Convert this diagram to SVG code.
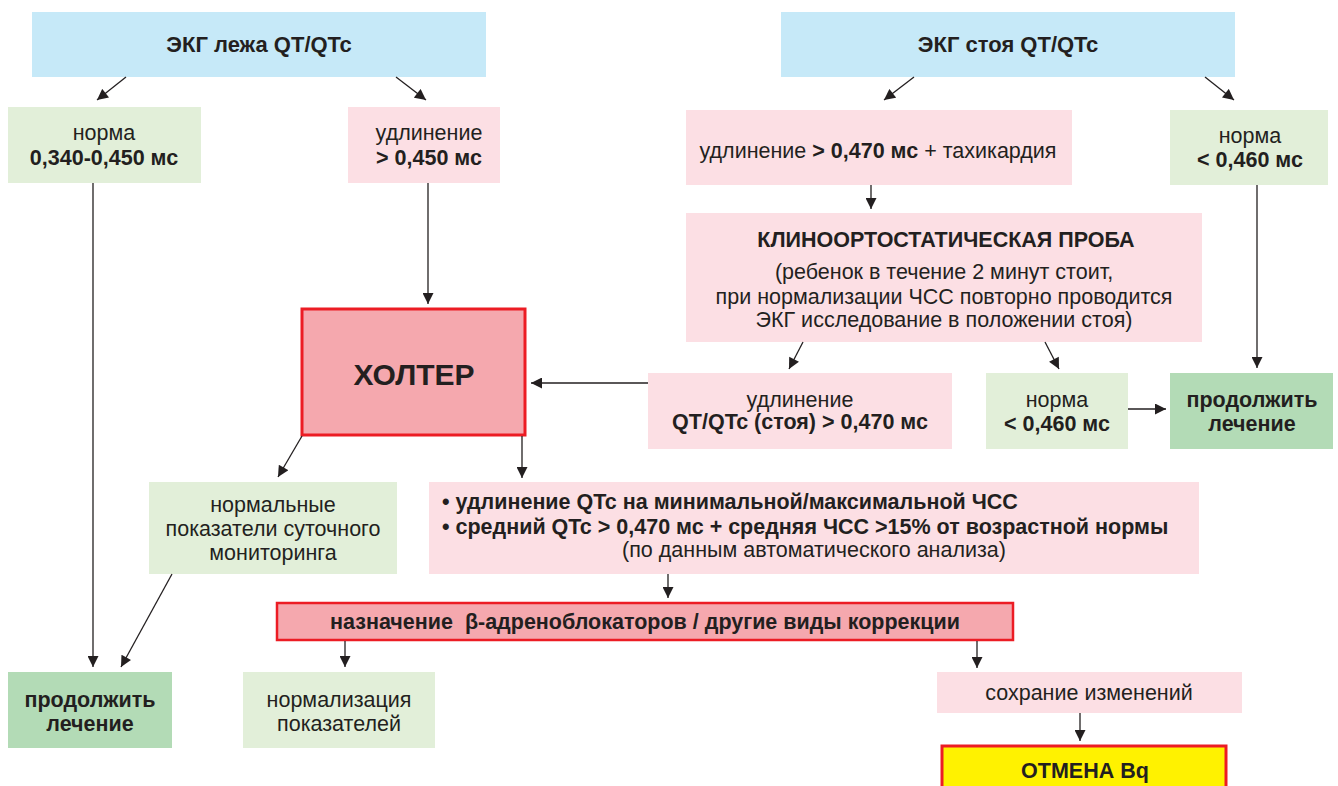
<svg xmlns="http://www.w3.org/2000/svg" width="1338" height="786" viewBox="0 0 1338 786">
<defs>
<marker id="ah" viewBox="0 0 10 10" refX="10" refY="5" markerWidth="12" markerHeight="11" markerUnits="userSpaceOnUse" orient="auto">
<path d="M0,0 L10,5 L0,10 z" fill="#231f20"/>
</marker>
<style>
.blue{fill:#c6e9f8}
.pink{fill:#fcdfe4}
.lg{fill:#e2efd9}
.dg{fill:#b3dbb6}
.red{fill:#f5a8ae;stroke:#ec1c24;stroke-width:3}
.yel{fill:#fff200;stroke:#ec1c24;stroke-width:3}
text{font-family:"Liberation Sans",Arial,sans-serif;font-size:21.5px;fill:#231f20;text-anchor:middle}
.b{font-weight:bold}
.t{font-size:22px}
.big{font-size:30px}
.c line{stroke:#231f20;stroke-width:1.3;marker-end:url(#ah)}
</style>
</defs>
<rect width="1338" height="786" fill="#fff"/>

<g id="ekg-lying">
<rect class="blue" x="32" y="12" width="454" height="65"/>
<text class="b t" x="259" y="52">ЭКГ лежа QT/QTc</text>
</g>
<g id="ekg-standing">
<rect class="blue" x="781" y="12" width="454" height="65"/>
<text class="b t" x="1008" y="52">ЭКГ стоя QT/QTc</text>
</g>
<g id="norm-lying">
<rect class="lg" x="8" y="107" width="193" height="76"/>
<text x="104" y="140">норма</text>
<text class="b" x="104" y="165">0,340-0,450 мс</text>
</g>
<g id="long-lying">
<rect class="pink" x="348" y="107" width="152" height="76"/>
<text x="429" y="140">удлинение</text>
<text class="b" x="429" y="165">&gt; 0,450 мс</text>
</g>
<g id="long-standing">
<rect class="pink" x="686" y="110" width="386" height="75"/>
<text x="878" y="158">удлинение <tspan class="b">&gt; 0,470 мс</tspan> + тахикардия</text>
</g>
<g id="norm-standing">
<rect class="lg" x="1170" y="110" width="158" height="75"/>
<text x="1250" y="143">норма</text>
<text class="b" x="1250" y="167">&lt; 0,460 мс</text>
</g>
<g id="kop">
<rect class="pink" x="686" y="213" width="516" height="129"/>
<text class="b" x="946" y="247">КЛИНООРТОСТАТИЧЕСКАЯ ПРОБА</text>
<text x="944" y="279">(ребенок в течение 2 минут стоит,</text>
<text x="944" y="304">при нормализации ЧСС повторно проводится</text>
<text x="944" y="327">ЭКГ исследование в положении стоя)</text>
</g>
<g id="holter">
<rect class="red" x="302" y="309" width="223" height="126"/>
<text class="b big" x="414" y="385">ХОЛТЕР</text>
</g>
<g id="long-qt-standing">
<rect class="pink" x="648" y="373" width="304" height="76"/>
<text x="800" y="407">удлинение</text>
<text class="b" x="800" y="429">QT/QTc (стоя) &gt; 0,470 мс</text>
</g>
<g id="norm-mid">
<rect class="lg" x="986" y="373" width="142" height="76"/>
<text x="1057" y="407">норма</text>
<text class="b" x="1057" y="431">&lt; 0,460 мс</text>
</g>
<g id="continue-right">
<rect class="dg" x="1170" y="373" width="163" height="76"/>
<text class="b" x="1252" y="407">продолжить</text>
<text class="b" x="1252" y="431">лечение</text>
</g>
<g id="normal-monitoring">
<rect class="lg" x="149" y="482" width="248" height="92"/>
<text x="273" y="512">нормальные</text>
<text x="273" y="536">показатели суточного</text>
<text x="273" y="560">мониторинга</text>
</g>
<g id="criteria">
<rect class="pink" x="429" y="482" width="770" height="92"/>
<text class="b" x="442" y="509" style="text-anchor:start">• удлинение QTc на минимальной/максимальной ЧСС</text>
<text class="b" x="442" y="534" style="text-anchor:start">• средний QTc &gt; 0,470 мс + средняя ЧСС &gt;15% от возрастной нормы</text>
<text x="814" y="557">(по данным автоматического анализа)</text>
</g>
<g id="beta-blockers">
<rect class="red" x="277" y="603" width="736" height="37" style="stroke-width:2.5"/>
<text class="b" x="645" y="629">назначение &#160;β-адреноблокаторов / другие виды коррекции</text>
</g>
<g id="continue-left">
<rect class="dg" x="8" y="672" width="164" height="76"/>
<text class="b" x="90" y="707">продолжить</text>
<text class="b" x="90" y="731">лечение</text>
</g>
<g id="normalization">
<rect class="lg" x="243" y="672" width="192" height="76"/>
<text x="339" y="707">нормализация</text>
<text x="339" y="731">показателей</text>
</g>
<g id="persist">
<rect class="pink" x="937" y="672" width="305" height="41"/>
<text x="1089" y="700">сохрание изменений</text>
</g>
<g id="cancel">
<rect class="yel" x="942" y="746" width="284" height="46"/>
<text class="b" x="1085" y="778">ОТМЕНА Bq</text>
</g>

<g id="connectors" class="c">
<line x1="126" y1="77" x2="97" y2="100"/>
<line x1="396" y1="77" x2="426" y2="100"/>
<line x1="914" y1="77" x2="884" y2="100"/>
<line x1="1205" y1="77" x2="1234" y2="100"/>
<line x1="871" y1="185" x2="871" y2="209"/>
<line x1="93" y1="183" x2="93" y2="667"/>
<line x1="428" y1="183" x2="428" y2="304"/>
<line x1="1257" y1="185" x2="1257" y2="368"/>
<line x1="803" y1="342" x2="789" y2="369"/>
<line x1="1045" y1="342" x2="1059" y2="369"/>
<line x1="648" y1="383" x2="531" y2="383"/>
<line x1="1128" y1="409" x2="1166" y2="409"/>
<line x1="302" y1="436" x2="278" y2="477"/>
<line x1="522" y1="436" x2="522" y2="478"/>
<line x1="172" y1="574" x2="121" y2="667"/>
<line x1="668" y1="574" x2="668" y2="598"/>
<line x1="345" y1="641" x2="345" y2="667"/>
<line x1="977" y1="641" x2="977" y2="668"/>
<line x1="1080" y1="713" x2="1080" y2="741"/>
</g>
</svg>
